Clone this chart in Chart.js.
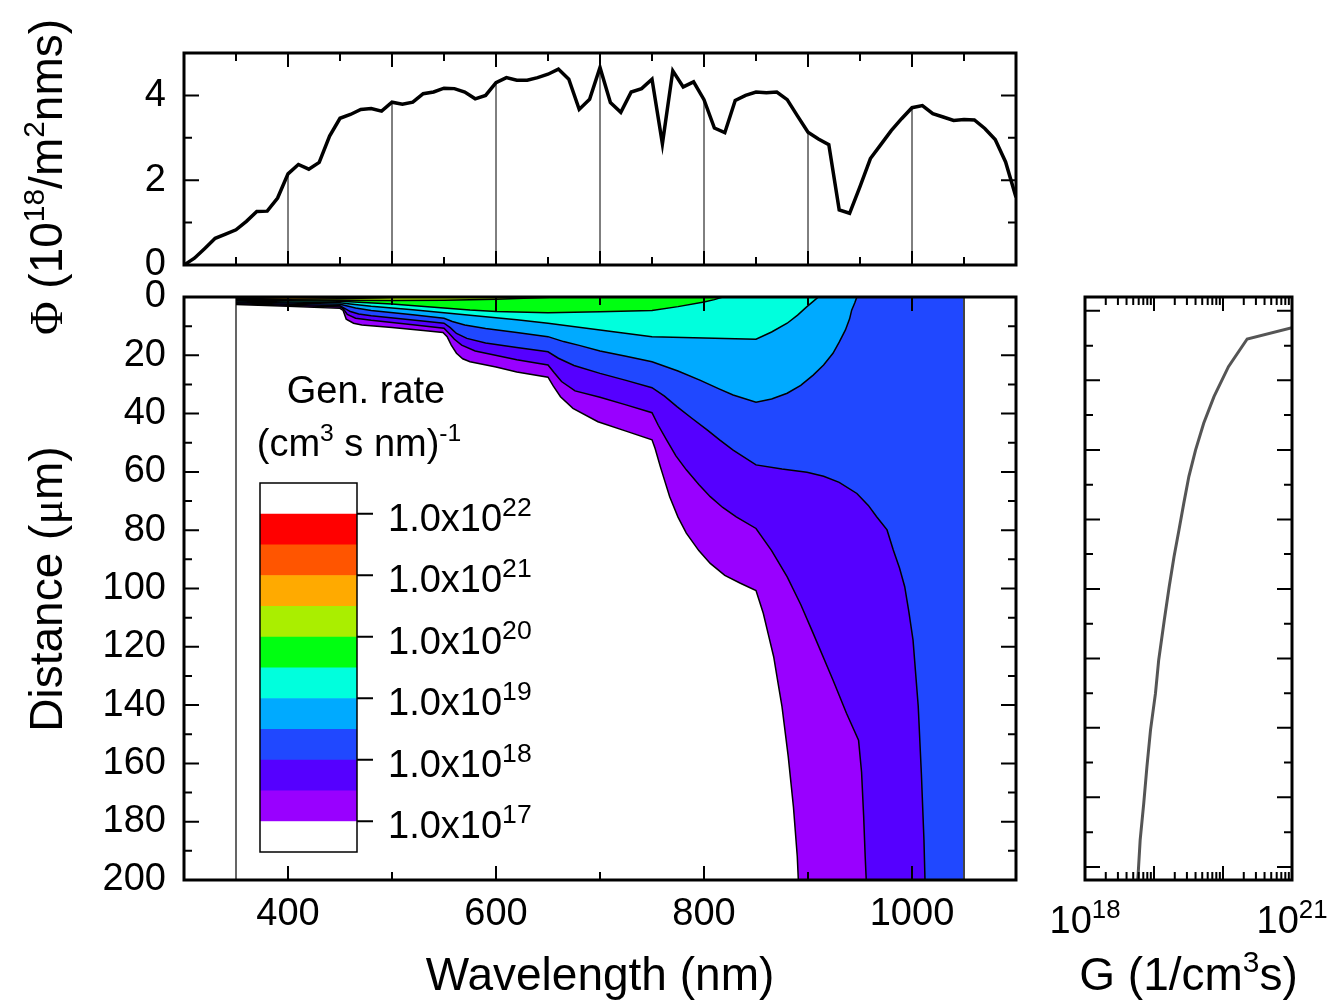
<!DOCTYPE html>
<html>
<head>
<meta charset="utf-8">
<script src="https://cdn.jsdelivr.net/npm/chart.js@4.4.1/dist/chart.umd.min.js"></script>
<style>
  body { margin: 0; background: #fff; }
  #wrap { position: relative; width: 1329px; height: 1006px; }
  #wrap canvas { position: absolute; left: 0; top: 0; }
</style>
</head>
<body>
<div id="wrap">
  <canvas id="mainChart" width="1329" height="1006"></canvas>
  <canvas id="topChart" width="1329" height="1006"></canvas>
  <canvas id="sideChart" width="1329" height="1006"></canvas>
</div>
<script>
// photon flux spectrum (top panel)
var phiWl = [300,310,320,330,340,350,360,370,380,390,400,410,420,430,440,450,460,470,480,490,
  500,510,520,530,540,550,560,570,580,590,600,610,620,630,640,650,660,670,680,690,
  700,710,720,730,740,750,760,770,780,790,800,810,820,830,840,850,860,870,880,890,
  900,910,920,930,940,950,960,970,980,990,1000,1010,1020,1030,1040,1050,1060,1070,1080,1090,1100];
var phiVal = [0.00,0.16,0.39,0.63,0.73,0.83,1.03,1.26,1.27,1.58,2.15,2.37,2.26,2.42,3.04,3.46,3.55,3.67,3.69,3.63,
  3.84,3.79,3.84,4.04,4.08,4.17,4.16,4.08,3.92,4.00,4.30,4.42,4.36,4.36,4.42,4.50,4.62,4.38,3.67,3.91,
  4.66,3.83,3.60,4.08,4.16,4.38,2.86,4.58,4.20,4.32,3.90,3.23,3.12,3.88,4.00,4.08,4.06,4.08,3.90,3.51,
  3.13,2.97,2.84,1.30,1.22,1.85,2.51,2.84,3.17,3.45,3.71,3.76,3.57,3.49,3.41,3.43,3.42,3.22,2.96,2.43,1.60];
var dropWl = [400,500,600,700,800,900,1000];

// contour lines of generation rate: [wavelength nm, depth um]
var contour1e17 = [[350,2.6],[400,3.2],[450,3.9],[453,4.6],[456,7.6],[463,9.0],[471,9.6],[500,10.5],[530,11.5],[549,12.2],
  [553,13.6],[557,16.5],[562,19.3],[568,21.2],[575,22.2],[600,24.0],[620,25.7],[650,27.5],[655,30.5],[662,34.2],[674,38.2],
  [698,42.8],[725,46],[750,49],[753,52],[758,58.2],[767,68.5],[775,75.5],[783,81],[795,87],[806,91.4],[820,95.5],[835,98.2],
  [850,100.7],[857,108.5],[862,116],[867,123.4],[871,132],[875,140.5],[881,157.7],[886,174.9],[889.7,192],[890.7,200],[1050,200]];
var contour3e17 = [[350,2.3],[400,2.8],[450,3.4],[453,4.0],[457,6.0],[465,7.3],[480,8.0],[520,9.5],[550,10.7],[555,12.5],
  [560,14.5],[567,16.5],[580,18.5],[620,21.5],[650,23.3],[656,26],[663,29],[676,32.2],[700,34.4],[725,37],[750,39.7],[756,44],
  [764,49],[773,54.5],[783,59.3],[795,64.3],[806,68.5],[818,72.2],[831,75.4],[850,79.4],[865,87],[880,96],[893,105.5],[905,115.4],
  [924,131.4],[937,142.8],[948.6,152],[951.5,163],[953.5,178],[955,192],[956,200],[1050,200]];
var contour1e18 = [[350,2.0],[400,2.5],[450,3.0],[454,3.8],[460,5.0],[468,5.8],[480,6.4],[520,7.9],[550,9.0],[556,10.5],
  [562,12.5],[572,14.2],[590,15.8],[620,17.3],[650,18.8],[660,21],[675,23.5],[700,26.2],[725,28.6],[750,31.1],[762,34],[774,37.6],
  [788,41.5],[803,45.6],[815,49],[828,52.5],[850,57.6],[875,59],[899,60.1],[915,61.5],[930,63.6],[947,67.4],[958,71.5],[966,75.4],
  [976,79.9],[982,86.8],[988,93],[993,99.4],[997,108],[1001,117.7],[1006,140.5],[1009,163.4],[1011.5,186.3],[1012.5,200],[1050,200]];
var contour3e18 = [[350,1.7],[400,2.1],[450,2.5],[456,3.0],[465,3.8],[480,4.6],[520,6.1],[550,7.3],[558,8.4],[570,9.6],
  [590,10.8],[620,12.2],[650,13.6],[665,15.3],[680,16.6],[700,18.5],[725,20.3],[750,22.2],[775,25.4],[796,28.5],[815,31.6],
  [828,33.6],[850,36.1],[865,35],[880,33],[893,30.3],[905,26.8],[915,23.3],[924,19.3],[930,15.5],[936,11.3],[940,7.5],[942,4.5],[945,2],[947,0]];
var contour1e19 = [[350,1.4],[400,1.7],[450,2.0],[460,2.4],[480,3.2],[520,4.4],[550,5.4],[580,6.4],[620,7.8],[650,9.0],
  [700,11.3],[750,13.6],[800,14.1],[850,14.5],[865,12],[880,9],[890,6.2],[899,3.3],[905,1.5],[910,0]];
var contour3e19 = [[350,1.1],[400,1.3],[450,1.5],[500,2.4],[550,3.8],[575,4.5],[600,5.0],[650,5.4],[700,5.1],[750,4.6],
  [775,3.3],[800,1.7],[810,0.9],[818,0]];
var contour1e20 = [[350,0.9],[400,1.0],[450,1.1],[500,1.2],[550,1.1],[600,0.8],[640,0.3],[658,0]];
var contour3e20 = [[350,0.75],[400,0.8],[450,0.6],[490,0.3],[510,0]];
var contour1e21 = [[350,0.55],[375,0.45],[400,0.2],[410,0]];
var contour3e21 = [[350,0.35],[365,0.2],[378,0]];

var bandColors = ['#9900FF','#5500FF','#2048FF','#00AAFF','#00FFDD','#00FF11','#AAEE00','#FFAA00','#FF5500','#FF0000'];
var legendExps = ['22','21','20','19','18','17'];

// depth profile of G (right panel)
var gDepth = [10.5,14.4,23.9,34.2,43.3,52.5,61.6,70.8,79.9,89.1,99.4,110.8,124.5,136,148.6,161.1,173.7,186.3,197.7,200];
var gValue = [1.0e21,2.24e20,1.2e20,7.4e19,5.25e19,4.0e19,3.2e19,2.7e19,2.3e19,1.95e19,1.66e19,1.41e19,1.17e19,1.05e19,
  8.9e18,7.9e18,7.1e18,6.3e18,5.9e18,5.8e18];

var xLabelsMain = [400,600,800,1000];
var yLabelsMain = [0,20,40,60,80,100,120,140,160,180,200];
var yLabelsTop = [0,2,4];
var gLabelValues = [1e18, 1e21];
var gLabelExps = ['18','21'];

Chart.defaults.font.family = '"Liberation Sans", Arial, sans-serif';
Chart.defaults.color = '#000';

function drawRich(ctx, parts, x, y, size, align, supRatio) {
  var sr = supRatio || 0.65;
  function fontOf(p) {
    var s = p[1] === 'sup' ? size * sr : size;
    var fam = p[2] === 'serif' ? '"Liberation Serif", "Times New Roman", serif' : '"Liberation Sans", Arial, sans-serif';
    return s + 'px ' + fam;
  }
  var w = 0;
  parts.forEach(function(p) { ctx.font = fontOf(p); w += ctx.measureText(p[0]).width; });
  var cx = align === 'center' ? x - w / 2 : x;
  ctx.fillStyle = '#000';
  ctx.textAlign = 'left';
  ctx.textBaseline = 'alphabetic';
  parts.forEach(function(p) {
    ctx.font = fontOf(p);
    ctx.fillText(p[0], cx, p[1] === 'sup' ? y - size * 0.4 : y);
    cx += ctx.measureText(p[0]).width;
  });
}

function framePlugin(cfg) {
  return {
    id: 'frame' + cfg.name,
    afterDatasetsDraw: function(chart) {
      var ctx = chart.ctx, a = chart.chartArea, sx = chart.scales.x, sy = chart.scales.y;
      ctx.save();
      if (cfg.extra) cfg.extra(chart, ctx);
      ctx.strokeStyle = '#000';
      ctx.lineWidth = 2;
      ctx.beginPath();
      [[cfg.xMajor, 14], [cfg.xMinor, 8]].forEach(function(set) {
        set[0].forEach(function(v) {
          var p = sx.getPixelForValue(v);
          ctx.moveTo(p, a.bottom); ctx.lineTo(p, a.bottom - set[1]);
          ctx.moveTo(p, a.top); ctx.lineTo(p, a.top + set[1]);
        });
      });
      [[cfg.yMajor, 15], [cfg.yMinor, 8]].forEach(function(set) {
        set[0].forEach(function(v) {
          var p = sy.getPixelForValue(v);
          ctx.moveTo(a.left, p); ctx.lineTo(a.left + set[1], p);
          ctx.moveTo(a.right, p); ctx.lineTo(a.right - set[1], p);
        });
      });
      ctx.stroke();
      ctx.lineWidth = 3;
      ctx.strokeRect(a.left, a.top, a.right - a.left, a.bottom - a.top);
      ctx.restore();
    }
  };
}

function pts(list) { return list.map(function(p) { return {x: p[0], y: p[1]}; }); }

// ---------- main contour panel ----------
var contours = [contour1e17, contour3e17, contour1e18, contour3e18, contour1e19,
  contour3e19, contour1e20, contour3e20, contour1e21, contour3e21];
var contourSets = contours.map(function(c, i) {
  return {
    data: pts(c),
    borderColor: '#000',
    borderWidth: 1.5,
    backgroundColor: bandColors[i],
    fill: {value: 0},
    pointRadius: 0,
    tension: 0
  };
}).reverse();

var mainSets = [
  {data: [{x: 350, y: 0}, {x: 350, y: 200}], borderColor: '#000', borderWidth: 1.2, pointRadius: 0, fill: false},
  {data: [{x: 1050, y: 0}, {x: 1050, y: 200}], borderColor: '#444', borderWidth: 2, pointRadius: 0, fill: false}
].concat(contourSets);

new Chart(document.getElementById('mainChart'), {
  type: 'line',
  data: {datasets: mainSets},
  options: {
    responsive: false,
    animation: false,
    devicePixelRatio: 1,
    layout: {padding: {left: 0, top: 297, right: 313, bottom: 0}},
    plugins: {legend: {display: false}, tooltip: {enabled: false}},
    scales: {
      x: {
        type: 'linear', min: 300, max: 1100,
        grid: {display: false, drawTicks: false}, border: {display: false},
        afterBuildTicks: function(s) { s.ticks = xLabelsMain.map(function(v) { return {value: v}; }); },
        afterFit: function(s) { s.height = 126; },
        ticks: {font: {size: 38}, padding: 12, maxRotation: 0, callback: function(v) { return String(v); }}
      },
      y: {
        type: 'linear', min: 0, max: 200, reverse: true,
        grid: {display: false, drawTicks: false}, border: {display: false},
        afterBuildTicks: function(s) { s.ticks = yLabelsMain.map(function(v) { return {value: v}; }); },
        afterFit: function(s) { s.width = 184; },
        ticks: {font: {size: 38}, padding: 18, callback: function(v) { return String(v); }}
      }
    }
  },
  plugins: [framePlugin({
    name: 'Main',
    xMajor: [400, 600, 800, 1000], xMinor: [500, 700, 900],
    yMajor: [20, 40, 60, 80, 100, 120, 140, 160, 180],
    yMinor: [10, 30, 50, 70, 90, 110, 130, 150, 170, 190],
    extra: function(chart, ctx) {
      // colour bar legend
      var x0 = 260, x1 = 357, top = 483, bottom = 852;
      var cols = ['#FFFFFF'].concat(bandColors.slice().reverse(), ['#FFFFFF']);
      var h = (bottom - top) / cols.length;
      cols.forEach(function(c, i) {
        ctx.fillStyle = c;
        ctx.fillRect(x0, top + i * h, x1 - x0, h + 0.6);
      });
      ctx.strokeStyle = '#000';
      ctx.lineWidth = 1.5;
      ctx.strokeRect(x0, top, x1 - x0, bottom - top);
      ctx.lineWidth = 2;
      legendExps.forEach(function(e, k) {
        var ty = top + (1 + 2 * k) * h;
        ctx.beginPath(); ctx.moveTo(x1, ty); ctx.lineTo(x1 + 16, ty); ctx.stroke();
        drawRich(ctx, [['1.0x10', ''], [e, 'sup']], 388, ty + 17, 38, 'left', 0.7);
      });
      drawRich(ctx, [['Gen. rate', '']], 366, 403, 38, 'center');
      drawRich(ctx, [['(cm', ''], ['3', 'sup'], [' s nm)', ''], ['-1', 'sup']], 359, 456, 38, 'center');
      // axis titles
      drawRich(ctx, [['Wavelength (nm)', '']], 600, 990, 46, 'center');
      ctx.save();
      ctx.translate(62, 589);
      ctx.rotate(-Math.PI / 2);
      drawRich(ctx, [['Distance (', ''], ['\u03bc', '', 'serif'], ['m)', '']], 0, 0, 46, 'center');
      ctx.restore();
    }
  })]
});

// ---------- top spectrum panel ----------
var topSets = [{
  data: phiWl.map(function(w, i) { return {x: w, y: phiVal[i]}; }),
  borderColor: '#000', borderWidth: 3.5, pointRadius: 0, fill: false, tension: 0
}].concat(dropWl.map(function(w) {
  return {
    data: [{x: w, y: 0}, {x: w, y: phiVal[phiWl.indexOf(w)]}],
    borderColor: '#000', borderWidth: 1, pointRadius: 0, fill: false
  };
}));

new Chart(document.getElementById('topChart'), {
  type: 'line',
  data: {datasets: topSets},
  options: {
    responsive: false,
    animation: false,
    devicePixelRatio: 1,
    layout: {padding: {left: 0, top: 53, right: 313, bottom: 741}},
    plugins: {legend: {display: false}, tooltip: {enabled: false}},
    scales: {
      x: {type: 'linear', min: 300, max: 1100, display: false},
      y: {
        type: 'linear', min: 0, max: 5,
        grid: {display: false, drawTicks: false}, border: {display: false},
        afterBuildTicks: function(s) { s.ticks = yLabelsTop.map(function(v) { return {value: v}; }); },
        afterFit: function(s) { s.width = 184; },
        ticks: {font: {size: 38}, padding: 18, callback: function(v) { return String(v); }}
      }
    }
  },
  plugins: [framePlugin({
    name: 'Top',
    xMajor: [300, 400, 500, 600, 700, 800, 900, 1000, 1100],
    xMinor: [350, 450, 550, 650, 750, 850, 950, 1050],
    yMajor: [0, 2, 4], yMinor: [1, 3],
    extra: function(chart, ctx) {
      ctx.save();
      ctx.translate(62, 177);
      ctx.rotate(-Math.PI / 2);
      drawRich(ctx, [['\u03a6', '', 'serif'], [' (10', ''], ['18', 'sup'], ['/m', ''], ['2', 'sup'], ['nms)', '']], 0, 0, 46, 'center');
      ctx.restore();
    }
  })]
});

// ---------- side G(depth) panel ----------
new Chart(document.getElementById('sideChart'), {
  type: 'line',
  data: {datasets: [{
    data: gDepth.map(function(d, i) { return {x: gValue[i], y: d}; }),
    borderColor: '#555', borderWidth: 3, pointRadius: 0, fill: false, tension: 0
  }]},
  options: {
    responsive: false,
    animation: false,
    devicePixelRatio: 1,
    layout: {padding: {left: 1085, top: 297, right: 37, bottom: 126}},
    plugins: {legend: {display: false}, tooltip: {enabled: false}},
    scales: {
      x: {type: 'logarithmic', min: 1e18, max: 1e21, display: false},
      y: {type: 'linear', min: 0, max: 200, reverse: true, display: false}
    }
  },
  plugins: [framePlugin({
    name: 'Side',
    xMajor: [1e19, 1e20],
    xMinor: [2e18,3e18,4e18,5e18,6e18,7e18,8e18,9e18,2e19,3e19,4e19,5e19,6e19,7e19,8e19,9e19,
      2e20,3e20,4e20,5e20,6e20,7e20,8e20,9e20],
    yMajor: [4.7, 28.6, 52.5, 76.3, 100.2, 124, 147.8, 171.6, 195.5],
    yMinor: [16.7, 40.5, 64.4, 88.2, 112.1, 135.9, 159.7, 183.6],
    extra: function(chart, ctx) {
      var sx = chart.scales.x, a = chart.chartArea;
      gLabelValues.forEach(function(v, i) {
        drawRich(ctx, [['10', ''], [gLabelExps[i], 'sup']], sx.getPixelForValue(v), 933, 38, 'center', 0.68);
      });
      drawRich(ctx, [['G (1/cm', ''], ['3', 'sup'], ['s)', '']], (a.left + a.right) / 2, 990, 46, 'center');
    }
  })]
});
</script>
</body>
</html>
